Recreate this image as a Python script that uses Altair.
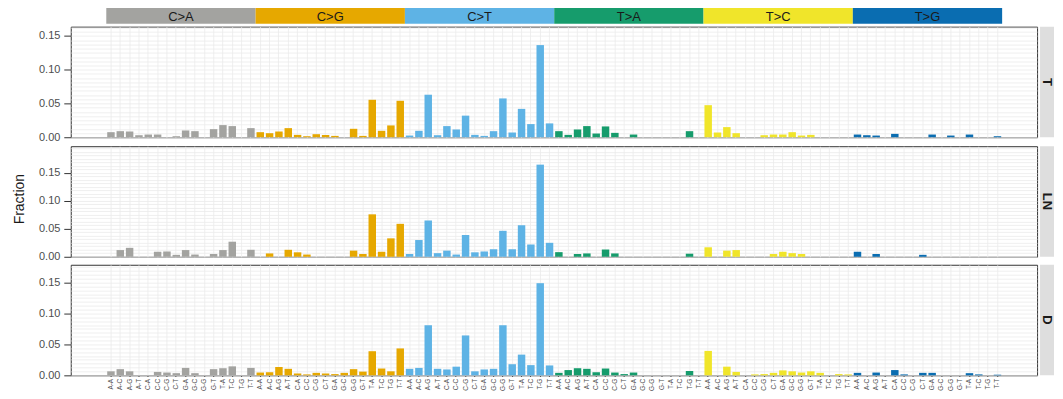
import altair as alt
import pandas as pd

# ---------------- data ----------------
mut_types = ["C>A", "C>G", "C>T", "T>A", "T>C", "T>G"]
type_colors = ["#A3A3A0", "#E6A800", "#5EB3E5", "#169C6C", "#F0E52A", "#0A6DB1"]
contexts = ["A-A", "A-C", "A-G", "A-T", "C-A", "C-C", "C-G", "C-T",
            "G-A", "G-C", "G-G", "G-T", "T-A", "T-C", "T-G", "T-T"]
samples = ["T", "LN", "D"]

values_T = [
    0.0075, 0.009, 0.0085, 0.003, 0.004, 0.004, 0.0, 0.0015, 0.010, 0.009, 0.0, 0.012, 0.018, 0.0165, 0.0, 0.0135,      # C>A
    0.0075, 0.006, 0.0085, 0.0135, 0.0035, 0.0015, 0.0045, 0.0035, 0.002, 0.0, 0.0125, 0.002, 0.0555, 0.0095, 0.0175, 0.054,  # C>G
    0.0025, 0.0095, 0.063, 0.003, 0.0165, 0.0115, 0.032, 0.0035, 0.002, 0.009, 0.0575, 0.007, 0.042, 0.0195, 0.1365, 0.0205,  # C>T
    0.009, 0.0035, 0.0115, 0.0165, 0.0055, 0.016, 0.0065, 0.0, 0.004, 0.0, 0.0, 0.0, 0.0, 0.0, 0.009, 0.0,             # T>A
    0.0475, 0.007, 0.015, 0.006, 0.0, 0.0, 0.003, 0.004, 0.004, 0.0075, 0.0025, 0.0035, 0.0, 0.0, 0.0, 0.0,            # T>C
    0.004, 0.003, 0.0025, 0.0, 0.005, 0.0, 0.0, 0.0, 0.004, 0.0, 0.0025, 0.0, 0.004, 0.0, 0.0, 0.0015,                 # T>G
]
values_LN = [
    0.0, 0.012, 0.016, 0.0, 0.0, 0.009, 0.0095, 0.0035, 0.012, 0.004, 0.0, 0.005, 0.012, 0.027, 0.0, 0.0125,           # C>A
    0.0, 0.006, 0.0, 0.0125, 0.008, 0.004, 0.0, 0.0, 0.0, 0.0, 0.011, 0.005, 0.076, 0.009, 0.033, 0.059,               # C>G
    0.005, 0.030, 0.065, 0.0065, 0.011, 0.004, 0.039, 0.008, 0.0095, 0.0135, 0.0465, 0.0135, 0.0565, 0.022, 0.165, 0.025,  # C>T
    0.0083, 0.0, 0.005, 0.006, 0.0, 0.013, 0.006, 0.0, 0.0, 0.0, 0.0, 0.0, 0.0, 0.0, 0.0055, 0.0,                      # T>A
    0.017, 0.0, 0.011, 0.012, 0.0, 0.0, 0.0, 0.005, 0.009, 0.0065, 0.005, 0.0, 0.0, 0.0, 0.0, 0.0,                     # T>C
    0.009, 0.0, 0.005, 0.0, 0.0, 0.0, 0.0, 0.0035, 0.0, 0.0, 0.0, 0.0, 0.0, 0.0, 0.0, 0.0,                             # T>G
]
values_D = [
    0.0065, 0.010, 0.0065, 0.0, 0.0, 0.0055, 0.0045, 0.0035, 0.012, 0.0035, 0.0, 0.010, 0.0115, 0.0145, 0.0, 0.012,    # C>A
    0.0045, 0.005, 0.0135, 0.0105, 0.003, 0.0015, 0.004, 0.003, 0.002, 0.004, 0.010, 0.006, 0.039, 0.011, 0.0065, 0.0435,  # C>G
    0.0105, 0.012, 0.081, 0.0105, 0.0095, 0.014, 0.0645, 0.0065, 0.0095, 0.0105, 0.081, 0.018, 0.0335, 0.0165, 0.149, 0.016,  # C>T
    0.004, 0.0085, 0.0115, 0.0105, 0.005, 0.011, 0.0045, 0.002, 0.0045, 0.0, 0.0, 0.0, 0.0, 0.0, 0.007, 0.0,           # T>A
    0.0395, 0.0, 0.014, 0.0055, 0.0, 0.0015, 0.002, 0.004, 0.008, 0.0065, 0.0045, 0.0065, 0.004, 0.0, 0.002, 0.0015,   # T>C
    0.004, 0.0, 0.0045, 0.0, 0.0085, 0.0015, 0.0, 0.004, 0.004, 0.0, 0.0, 0.0, 0.0035, 0.0015, 0.0, 0.001,             # T>G
]
sample_values = [values_T, values_LN, values_D]
y_ticks = [0.0, 0.05, 0.10, 0.15]

# ---------------- layout / style ----------------
FONT = "Liberation Sans"
W, H = 970, 111
PI = 0.2                      # gap between bars (fraction of a step)
X0, X1 = 36.6, 934.0          # pixel span of the 96 bars inside the panel
STEP = (X1 - X0) / (96 - PI)
GRID = "#EBEBEB"
AXIS_W = 40
SIDE_W = 14

ids = [f"{t}:{c}" for t in mut_types for c in contexts]
types_col = [t for t in mut_types for _ in contexts]

color = alt.Color("type:N", scale=alt.Scale(domain=mut_types, range=type_colors), legend=None)


def panel(vals, gap, bottom):
    df = pd.DataFrame({"id": ids, "type": types_col, "value": vals})
    ymax = 1.2 * max(vals)
    yscale = alt.Scale(domain=[0, ymax], nice=False, zero=True)
    n = int(ymax / 0.00625)
    minor_vals = [round(i * 0.00625, 6) for i in range(n + 1)]
    yaxis = alt.Axis(values=y_ticks, format=".2f", tickSize=7, labelPadding=4, domain=False,
                     title=None, grid=False, minExtent=AXIS_W, maxExtent=AXIS_W)
    grid_axis = alt.Axis(orient="right", values=minor_vals, labels=False, ticks=False,
                         domain=False, title=None, grid=True, gridColor=GRID,
                         minExtent=0, maxExtent=0)
    if bottom:
        xaxis = alt.Axis(
            labelExpr="split(datum.value, ':')[1]", labelAngle=270, labelFontSize=6.5,
            labelPadding=2, tickSize=1, domain=False, title=None,
            grid=True, gridColor=GRID, labelOverlap=False,
        )
    else:
        xaxis = alt.Axis(
            labels=False, ticks=False, domain=False, title=None,
            grid=True, gridColor=GRID, minExtent=gap, maxExtent=gap,
        )
    grid_layer = alt.Chart(df).transform_filter("false").mark_tick().encode(
        y=alt.Y("value:Q", scale=yscale, axis=grid_axis)
    )
    bars = alt.Chart(df).mark_bar().encode(
        x=alt.X("id:N", scale=alt.Scale(domain=ids, range=[X0, X1], paddingInner=PI, paddingOuter=0),
                axis=xaxis),
        y=alt.Y("value:Q", scale=yscale, axis=yaxis),
        color=color,
    )
    return alt.layer(grid_layer, bars).resolve_axis(y="independent").properties(width=W, height=H)


def side(label):
    df = pd.DataFrame({"sample": [label]})
    base = alt.Chart(df).encode(
        y=alt.Y("sample:N", axis=None, scale=alt.Scale(paddingInner=0, paddingOuter=0))
    )
    rect = base.mark_rect(color="#DEDEDE")
    txt = base.mark_text(angle=90, fontSize=13, fontWeight="bold", font=FONT,
                         color="#1A1A1A").encode(text="sample:N")
    return alt.layer(rect, txt).properties(
        width=SIDE_W, height=H, view=alt.ViewBackground(stroke="transparent")
    )


# top strip of mutation types
strip_df = pd.DataFrame({"type": mut_types})
half_gap = PI * STEP / 2
sx = alt.X("type:N", scale=alt.Scale(domain=mut_types, range=[X0 - half_gap, X1 + half_gap],
                                     paddingInner=0, paddingOuter=0), axis=None)
sy = alt.Y("lane:N", scale=alt.Scale(paddingInner=0, paddingOuter=0),
           axis=alt.Axis(labels=False, ticks=False, domain=False, title=None, grid=False,
                         minExtent=AXIS_W, maxExtent=AXIS_W))
strip_base = alt.Chart(strip_df).transform_calculate(lane="'top'")
strip_rect = strip_base.mark_rect().encode(x=sx, y=sy, color=color)
strip_text = strip_base.mark_text(fontSize=13, font=FONT, color="#1A1A1A", baseline="middle",
                                  dy=1).encode(x=sx, y=sy, text="type:N")
strip = alt.layer(strip_rect, strip_text).properties(
    width=W, height=16, view=alt.ViewBackground(stroke="transparent")
)

gaps = [6, 5, 0]
rows = []
for i, (s, vals) in enumerate(zip(samples, sample_values)):
    rows.append(alt.hconcat(panel(vals, gaps[i], i == 2), side(s), spacing=1))

chart = alt.vconcat(strip, *rows, spacing=1).properties(
    padding={"left": 5, "top": -2, "right": 0, "bottom": 0},
    title=alt.TitleParams("Fraction", orient="left", anchor="middle", fontSize=14, font=FONT,
                          fontWeight="normal", color="#1A1A1A", offset=3),
).configure(font=FONT).configure_axis(
    labelFont=FONT, labelFontSize=11, labelColor="#4D4D4D", tickColor="#333333",
    gridWidth=0.8,
).configure_view(stroke="#333333", strokeWidth=1)

chart.save("out.html", embed_options={"renderer": "svg", "actions": False})
